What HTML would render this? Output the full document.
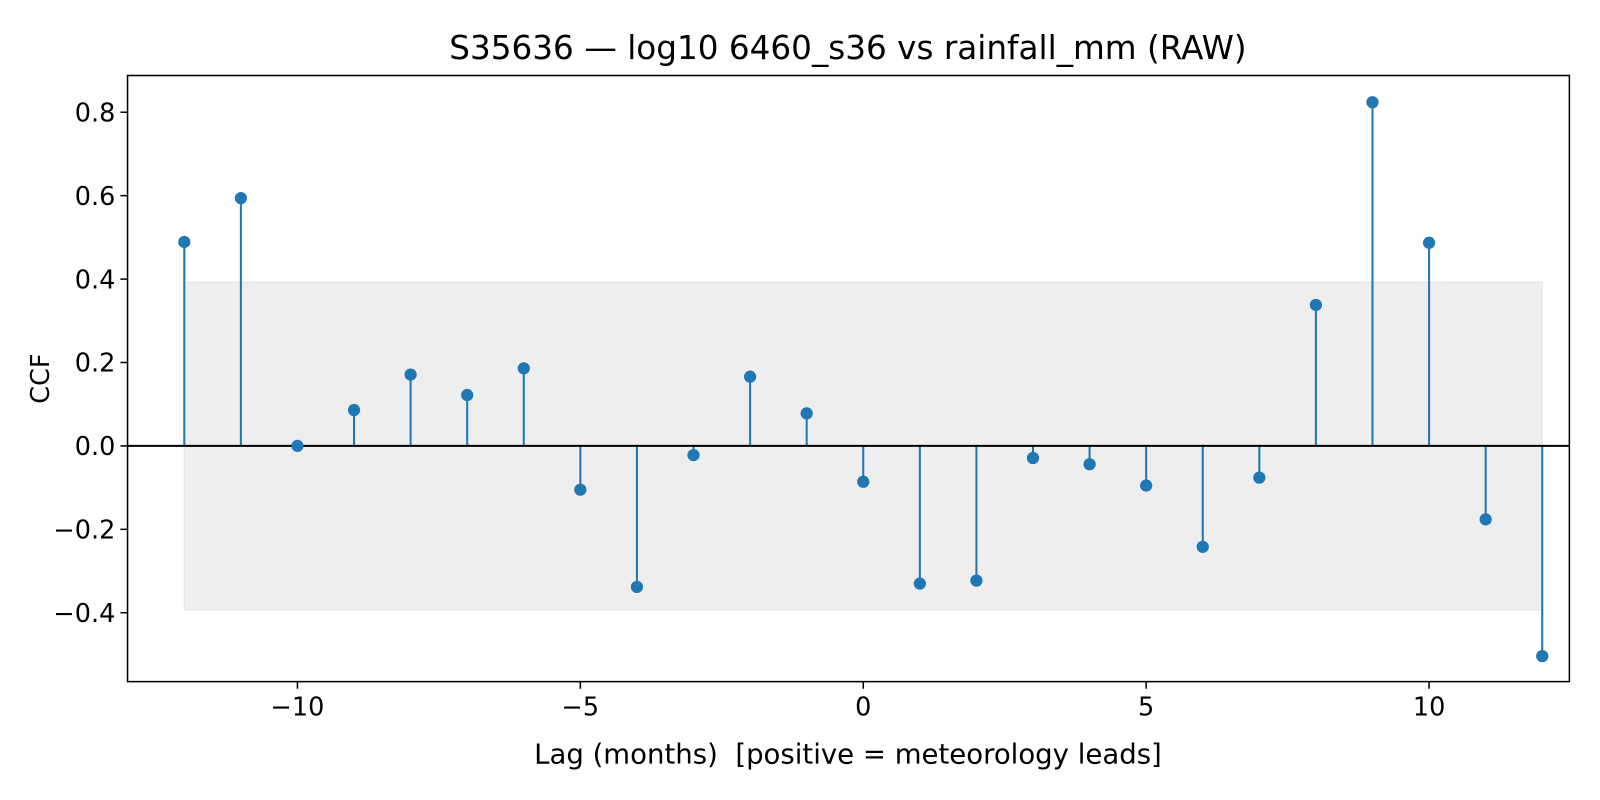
<!DOCTYPE html>
<html><head><meta charset="utf-8"><style>
html,body{margin:0;padding:0;background:#fff;width:1600px;height:800px;overflow:hidden;}
svg{display:block;}
svg text{font-family:"DejaVu Sans","Liberation Sans",sans-serif;fill:#000;}
</style></head><body>
<svg id="chart" width="1600" height="800" xmlns="http://www.w3.org/2000/svg">
<rect width="1600" height="800" fill="#fff"/>
<g transform="scale(1.0204)">
<text x="831" y="58" font-size="32" text-anchor="middle">S35636 — log10 6460_s36 vs rainfall_mm (RAW)</text>
<g id="plot"></g>
<text x="831" y="748" font-size="27" text-anchor="middle" xml:space="preserve">Lag (months)  [positive = meteorology leads]</text>
<text x="0" y="0" font-size="25" text-anchor="middle" transform="translate(48,371) rotate(-90)">CCF</text>
</g>
</svg>
<script>
const lags=[-12,-11,-10,-9,-8,-7,-6,-5,-4,-3,-2,-1,0,1,2,3,4,5,6,7,8,9,10,11,12];
const ccf=[0.489,0.594,0.0,0.086,0.171,0.122,0.186,-0.105,-0.338,-0.022,0.166,0.078,-0.086,-0.330,-0.323,-0.029,-0.044,-0.095,-0.242,-0.076,0.338,0.824,0.487,-0.176,-0.504];
const bandLimit=0.393;
const xTicks=[-10,-5,0,5,10];
const yTicks=[-0.4,-0.2,0.0,0.2,0.4,0.6,0.8];
const yTickLabels=["−0.4","−0.2","0.0","0.2","0.4","0.6","0.8"];
const L=125,R=1538,T=74,B=668;
const xs=v=>846+v*55.45;
const ys=v=>437-v*408.75;
const NS="http://www.w3.org/2000/svg";
const g=document.getElementById('plot');
function mk(tag,attrs){const e=document.createElementNS(NS,tag);for(const k in attrs)e.setAttribute(k,attrs[k]);g.appendChild(e);return e;}
let band=mk('rect',{x:xs(lags[0]),y:ys(bandLimit),width:xs(lags[lags.length-1])-xs(lags[0]),height:ys(-bandLimit)-ys(bandLimit),fill:'#bdbdbd','fill-opacity':0.25,stroke:'#bdbdbd','stroke-opacity':0.3});


lags.forEach((l,i)=>{
 const s=mk('line',{x1:xs(l),x2:xs(l),y1:ys(0),y2:ys(ccf[i]),stroke:'#1f77b4','stroke-width':2});
 
 
});
let zl=mk('line',{x1:L,x2:R,y1:ys(0),y2:ys(0),stroke:'#000','stroke-width':2});


lags.forEach((l,i)=>{
 const c=mk('circle',{cx:xs(l),cy:ys(ccf[i]),r:6,fill:'#1f77b4'});
 
 
});
let fr=mk('rect',{x:L,y:T,width:R-L,height:B-T,fill:'none',stroke:'#000','stroke-width':1.5});


xTicks.forEach(t=>{
 const tl=mk('line',{x1:xs(t),x2:xs(t),y1:B,y2:B+7,stroke:'#000','stroke-width':1.5});
 
 
 const tx=mk('text',{x:xs(t),y:B+33,'font-size':25,'text-anchor':'middle'});
 tx.textContent=t<0?'−'+Math.abs(t):String(t);
 
 
});
yTicks.forEach((t,i)=>{
 const tl=mk('line',{x1:L-7,x2:L,y1:ys(t),y2:ys(t),stroke:'#000','stroke-width':1.5});
 
 
 const tx=mk('text',{x:L-12,y:ys(t)+9,'font-size':25,'text-anchor':'end'});
 tx.textContent=yTickLabels[i];
 
 
});
</script>
</body></html>
